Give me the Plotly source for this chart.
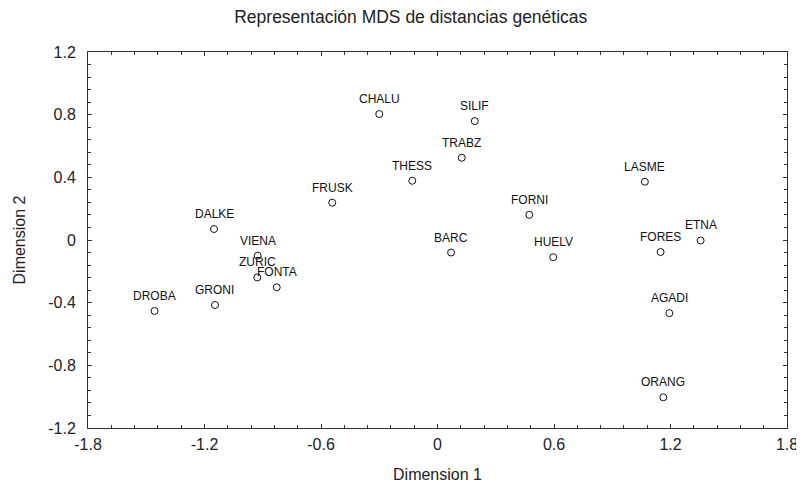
import plotly.graph_objects as go

# Data
populations = ["DROBA", "GRONI", "DALKE", "VIENA", "ZURIC", "FONTA", "CHALU", "SILIF",
               "TRABZ", "THESS", "FRUSK", "FORNI", "BARC", "HUELV", "FORES", "ETNA",
               "LASME", "AGADI", "ORANG"]
dim1 = [-1.457, -1.146, -1.151, -0.926, -0.928, -0.828, -0.300, 0.192,
        0.125, -0.130, -0.542, 0.473, 0.070, 0.596, 1.149, 1.355,
        1.068, 1.194, 1.163]
dim2 = [-0.453, -0.415, 0.070, -0.100, -0.239, -0.302, 0.804, 0.759,
        0.525, 0.378, 0.238, 0.161, -0.080, -0.110, -0.077, -0.003,
        0.372, -0.467, -1.004]

x_ticks = [-1.8, -1.2, -0.6, 0, 0.6, 1.2, 1.8]
x_ticktext = ["-1.8", "-1.2", "-0.6", "0", "0.6", "1.2", "1.8"]
y_ticks = [-1.2, -0.8, -0.4, 0, 0.4, 0.8, 1.2]
y_ticktext = ["-1.2", "-0.8", "-0.4", "0", "0.4", "0.8", "1.2"]

title_text = "Representación MDS de distancias genéticas"
x_title = "Dimension 1"
y_title = "Dimension 2"

FONT = "Liberation Sans, Arial, sans-serif"

fig = go.Figure()
fig.add_trace(go.Scatter(
    x=dim1, y=dim2, mode="markers",
    marker=dict(symbol="circle-open", size=7, color="#111", line=dict(width=1, color="#111")),
    showlegend=False, cliponaxis=False, hoverinfo="text", text=populations,
))

for name, xv, yv in zip(populations, dim1, dim2):
    fig.add_annotation(x=xv, y=yv, text=name, showarrow=False, xanchor="center",
                       yanchor="bottom", yshift=6,
                       font=dict(family=FONT, size=12, color="#111"))

axis_common = dict(
    showgrid=False, zeroline=False, showline=True, linecolor="#333", linewidth=1,
    mirror="allticks", ticks="inside", ticklen=4, tickcolor="#333", tickwidth=1,
    tickfont=dict(family=FONT, size=16, color="#222"), automargin=False,
)

fig.update_xaxes(range=[-1.8, 1.8], tickmode="array", tickvals=x_ticks, ticktext=x_ticktext,
                 minor=dict(dtick=0.12, tick0=-1.8, ticks="inside", ticklen=3, tickcolor="#333"),
                 ticklabelstandoff=2,
                 title=dict(text=x_title, font=dict(family=FONT, size=16, color="#222"), standoff=16),
                 **axis_common)
fig.update_yaxes(range=[-1.2, 1.2], tickmode="array", tickvals=y_ticks, ticktext=y_ticktext,
                 minor=dict(dtick=0.08, tick0=-1.2, ticks="inside", ticklen=3, tickcolor="#333"),
                 ticklabelstandoff=8,
                 title=dict(text=y_title, font=dict(family=FONT, size=16, color="#222"), standoff=18),
                 **axis_common)

fig.update_layout(
    width=796, height=483,
    margin=dict(l=80, r=17, t=44, b=63),
    paper_bgcolor="white", plot_bgcolor="white",
    title=dict(text=title_text, x=0.506, xanchor="center", y=0.981, yanchor="middle",
               font=dict(family=FONT, size=17.5, color="#222")),
)

fig.write_html("out.html")
